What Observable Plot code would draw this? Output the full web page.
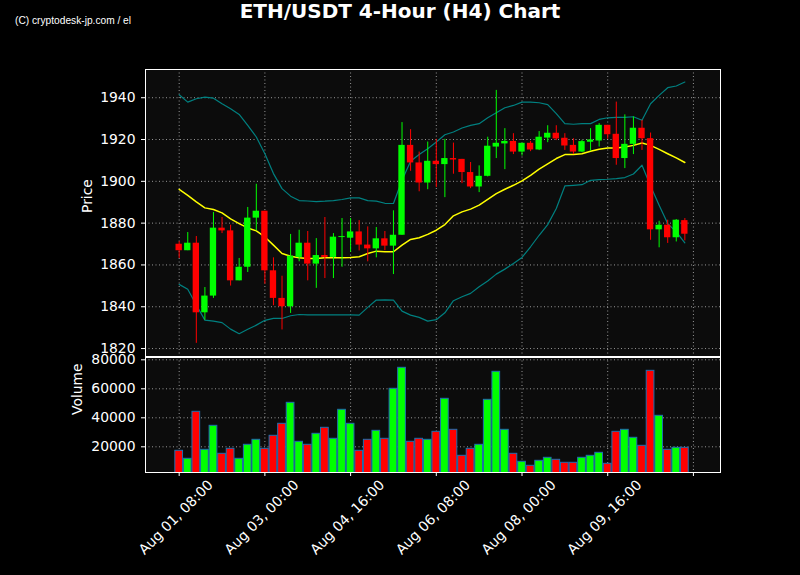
<!DOCTYPE html>
<html><head><meta charset="utf-8">
<script src="https://cdn.jsdelivr.net/npm/d3@7"></script>
<script src="https://cdn.jsdelivr.net/npm/@observablehq/plot@0.6"></script>
<style>
body{margin:0;background:#000;}
#wrap{position:relative;width:800px;height:575px;background:#000;overflow:hidden;font-family:"DejaVu Sans";}
#title{position:absolute;top:-1px;left:0;width:800px;text-align:center;color:#fff;font:bold 20px "DejaVu Sans";line-height:24px;}
#wm{position:absolute;left:15px;top:15px;color:#fff;font:10.2px "Liberation Sans";line-height:12px;}
.p{position:absolute;left:0;}
</style></head><body>
<div id="wrap"><div id="title">ETH/USDT 4-Hour (H4) Chart</div><div id="wm">(C) cryptodesk-jp.com / el</div></div>
<script>
// ---- data ----
const opens = [1869.9,1866.8,1870.4,1837.1,1845.1,1877.6,1876.3,1852.4,1858.9,1882.4,
1885.7,1857.2,1844.0,1840.0,1863.6,1870.4,1860.4,1864.5,1863.6,1873.1,
1872.8,1875.8,1869.5,1867.7,1872.5,1869.0,1874.2,1917.2,1908.8,1899.2,
1909.6,1908.0,1910.9,1910.5,1904.2,1897.3,1902.4,1916.4,1917.9,1919.1,
1914.0,1918.2,1915.0,1920.7,1923.0,1920.6,1917.2,1914.0,1918.7,1919.3,
1926.8,1922.5,1910.9,1917.7,1925.4,1920.4,1876.8,1879.0,1873.0,1881.2];
const highs = [1871.1,1875.5,1873.6,1849.2,1885.1,1882.7,1879.0,1863.1,1887.5,1898.6,
1885.7,1863.4,1854.6,1874.6,1876.6,1876.0,1872.6,1882.7,1875.0,1882.2,
1882.2,1881.2,1878.2,1877.9,1876.0,1885.9,1928.1,1924.7,1914.0,1918.8,
1920.1,1920.1,1918.3,1910.5,1909.0,1907.4,1921.1,1943.5,1925.2,1922.8,
1918.2,1919.1,1923.8,1926.6,1926.6,1922.8,1920.4,1919.6,1925.2,1927.6,
1926.8,1937.9,1931.8,1930.8,1929.2,1923.1,1880.9,1881.4,1881.7,1882.2];
const lows = [1863.1,1866.8,1822.5,1833.6,1844.0,1875.0,1849.9,1852.4,1856.4,1876.3,
1850.8,1840.5,1828.9,1836.8,1861.5,1852.4,1848.8,1853.5,1853.5,1858.9,
1866.0,1866.7,1861.5,1863.4,1866.8,1855.4,1874.2,1904.8,1895.0,1896.0,
1897.0,1892.2,1903.4,1898.9,1896.5,1894.6,1902.1,1910.9,1905.6,1912.8,
1912.1,1914.2,1914.7,1918.5,1919.5,1914.8,1912.8,1913.7,1914.4,1916.4,
1920.1,1907.7,1906.1,1912.8,1914.8,1871.8,1868.2,1870.3,1871.0,1871.5];
const closes = [1866.8,1870.4,1837.1,1845.1,1877.6,1876.3,1852.4,1858.9,1882.4,1885.7,
1857.2,1844.0,1840.0,1864.2,1870.4,1860.4,1864.5,1863.6,1873.3,1873.3,
1875.8,1869.5,1867.7,1872.5,1869.0,1874.2,1917.2,1908.8,1899.2,1909.6,
1908.0,1910.9,1910.2,1904.2,1897.3,1902.4,1916.8,1918.2,1919.1,1914.0,
1918.2,1915.0,1921.1,1923.0,1920.3,1916.9,1914.0,1919.0,1919.8,1926.8,
1922.3,1910.9,1917.7,1925.4,1920.4,1876.8,1879.0,1873.0,1881.4,1874.7];
const volumes = [17240,11720,44140,17930,34480,15170,18620,11720,21380,24830,
18620,27590,35860,50340,23450,21380,28970,33100,25520,45520,
35860,17240,24830,31030,25520,60000,74480,23450,25520,24830,
30340,53100,31720,13790,18620,21380,52410,71720,31720,15170,
9660,6900,10340,12410,11030,8970,8970,12410,13790,15860,
8280,30340,31720,26210,20690,72410,41380,17930,19310,19310];
const bbMid = [1896.1,1893.3,1890.2,1887.3,1886.5,1884.9,1882.0,1879.8,1877.7,1876.3,
1873.4,1869.5,1865.5,1864.2,1863.4,1863.1,1863.1,1863.4,1863.4,1863.5,
1863.6,1863.9,1865.5,1866.6,1866.3,1866.3,1869.5,1872.2,1873.0,1874.6,
1876.6,1879.3,1883.5,1885.4,1886.7,1888.6,1891.4,1894.1,1896.2,1898.1,
1900.2,1902.9,1905.8,1908.3,1910.9,1912.8,1912.8,1913.2,1914.4,1915.3,
1916.0,1916.0,1916.4,1917.2,1918.3,1917.2,1915.3,1913.2,1911.2,1909.0];
const bbUpper = [1941.4,1937.9,1939.5,1940.3,1939.8,1937.1,1934.7,1932.0,1926.8,1921.2,
1913.2,1903.7,1896.5,1892.9,1890.8,1890.6,1890.3,1890.5,1890.8,1891.3,
1892.1,1892.1,1890.8,1890.5,1889.5,1889.4,1900.5,1909.6,1912.8,1915.6,
1918.8,1922.3,1923.6,1925.5,1926.8,1927.6,1930.4,1932.8,1935.2,1936.3,
1937.9,1937.9,1937.6,1936.7,1932.4,1927.6,1927.3,1927.6,1927.6,1929.6,
1930.4,1930.6,1930.6,1930.9,1929.2,1937.1,1941.1,1944.8,1945.6,1947.5];
const bbLower = [1850.7,1848.4,1840.8,1833.6,1833.1,1832.4,1829.3,1827.1,1829.2,1831.2,
1833.5,1834.4,1834.4,1835.7,1836.3,1836.1,1836.1,1836.1,1836.1,1836.1,
1836.1,1836.0,1839.7,1843.2,1843.3,1843.2,1837.9,1836.0,1834.9,1833.1,
1833.8,1837.1,1842.9,1844.8,1846.4,1849.6,1852.3,1855.6,1858.0,1860.7,
1863.6,1868.7,1874.2,1879.3,1887.0,1897.8,1898.1,1898.4,1900.5,1900.8,
1901.0,1901.3,1901.8,1903.5,1907.7,1897.8,1888.6,1879.8,1875.8,1870.6];
const tickIdx = [0,10,20,30,40,50,60];
const tickLabels = ["Aug 01, 08:00","Aug 03, 00:00","Aug 04, 16:00","Aug 06, 08:00","Aug 08, 00:00","Aug 09, 16:00",""];
const priceTicks = [1820,1840,1860,1880,1900,1920,1940];
const volTicks = [20000,40000,60000,80000];

// ---- build ----
const GREEN = "#00ff00", RED = "#ff0000";
const FS = 13.9;
const candles = opens.map((o,i)=>({i, o, h:highs[i], l:lows[i], c:closes[i], v:volumes[i], col: closes[i]>=o ? GREEN : RED}));
const band = (arr)=>arr.map((v,i)=>({i, v}));
const xDomain = [-3.93, 63.16];
const gridStyle = {stroke:"#b0b0b0", strokeOpacity:0.85, strokeDasharray:"1,2.5", strokeWidth:1};
const baseStyle = {background:"transparent", color:"#fff", fontFamily:"DejaVu Sans", fontSize:FS+"px", overflow:"visible"};

const price = Plot.plot({
  width:800, height:357, marginLeft:145, marginRight:80, marginTop:69, marginBottom:1,
  style: baseStyle,
  color:{type:"identity"},
  x:{domain:xDomain, axis:null},
  y:{domain:[1816.2,1953.5], axis:null},
  marks:[
    Plot.frame({fill:"#0c0c0c"}),
    Plot.ruleY(priceTicks, gridStyle),
    Plot.ruleX(tickIdx, gridStyle),
    Plot.line(band(bbUpper), {x:"i", y:"v", stroke:"#008080", strokeWidth:1.2}),
    Plot.line(band(bbLower), {x:"i", y:"v", stroke:"#008080", strokeWidth:1.2}),
    Plot.line(band(bbMid), {x:"i", y:"v", stroke:"#ffff00", strokeWidth:1.5}),
    Plot.ruleX(candles, {x:"i", y1:"l", y2:"h", stroke:"col", strokeWidth:1}),
    Plot.rect(candles, {x1:d=>d.i-0.37, x2:d=>d.i+0.37,
      y1:d=>Math.min(d.o,d.c), y2:d=>Math.max(d.o,d.c, Math.min(d.o,d.c)+0.45), fill:"col"}),
    Plot.axisY({ticks:priceTicks, tickFormat:d3.format("d"), tickSize:4, tickPadding:6, stroke:"#fff", fill:"#fff", fontSize:FS, label:null}),
    Plot.text(["Price"], {frameAnchor:"left", dx:-58, rotate:-90, fontSize:FS, fill:"#fff"}),
    Plot.frame({stroke:"#fff", strokeWidth:1})
  ]
});
price.classList.add("p"); price.style.top = "0px";

const vol = Plot.plot({
  width:800, height:223, marginLeft:145, marginRight:80, marginTop:5, marginBottom:103,
  style: baseStyle,
  color:{type:"identity"},
  x:{domain:xDomain, axis:null},
  y:{domain:[2276,81590], axis:null},
  marks:[
    Plot.frame({fill:"#0c0c0c"}),
    Plot.ruleY(volTicks, gridStyle),
    Plot.ruleX(tickIdx, gridStyle),
    Plot.rect(candles, {x1:d=>d.i-0.45, x2:d=>d.i+0.45, y1:0, y2:"v", fill:"col", stroke:"#1f6fb0", strokeWidth:1, clip:true}),
    Plot.axisY({ticks:volTicks, tickFormat:d3.format("d"), tickSize:4, tickPadding:6, stroke:"#fff", fill:"#fff", fontSize:FS, label:null}),
    Plot.axisX({ticks:tickIdx, tickFormat:()=>"", tickSize:4, stroke:"#fff", label:null}),
    Plot.text(tickIdx, {x:d=>d, frameAnchor:"bottom", dy:48, rotate:-45, text:(d,i)=>tickLabels[i], fontSize:FS, fill:"#fff"}),
    Plot.text(["Volume"], {frameAnchor:"left", dx:-68, rotate:-90, fontSize:FS, fill:"#fff"}),
    Plot.frame({stroke:"#fff", strokeWidth:1})
  ]
});
vol.classList.add("p"); vol.style.top = "352px";

const wrap = document.getElementById("wrap");
wrap.appendChild(price);
wrap.appendChild(vol);
</script>
</body></html>
